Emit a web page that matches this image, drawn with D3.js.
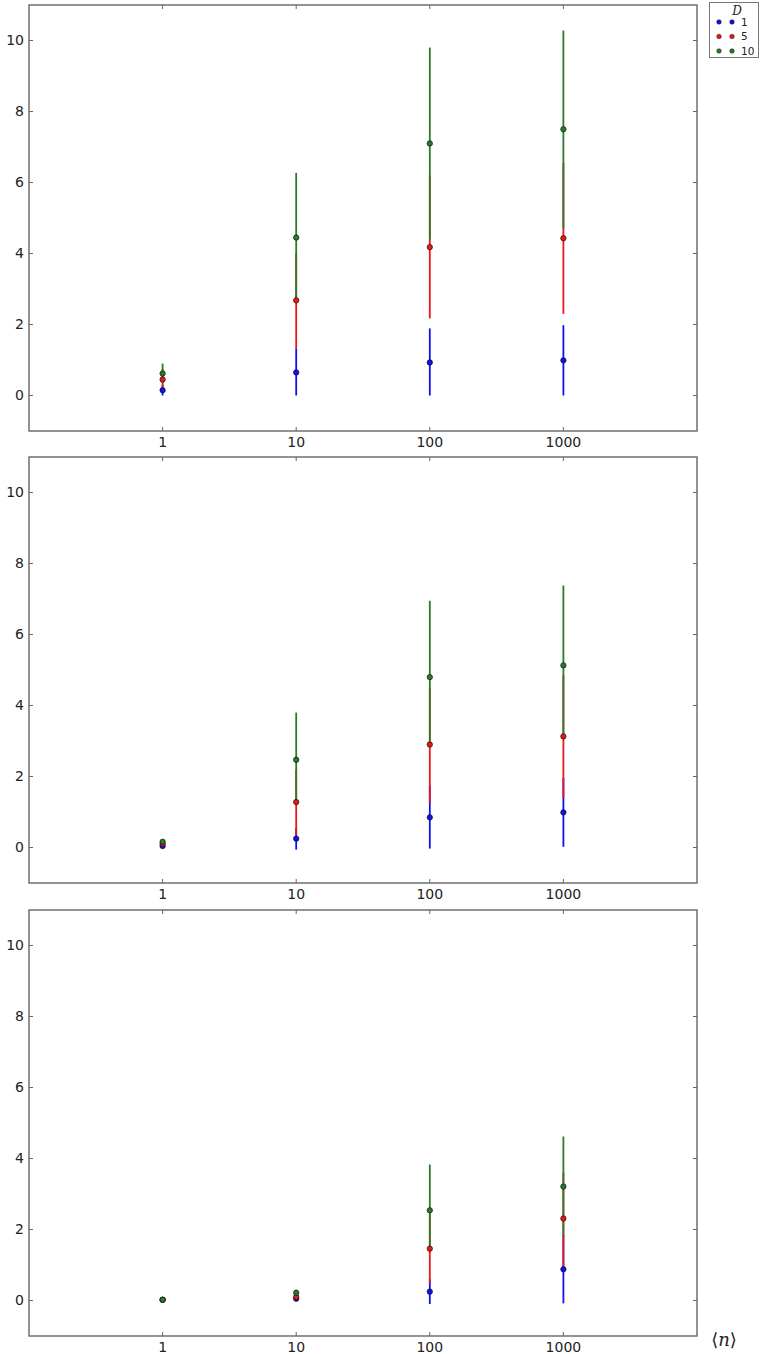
<!DOCTYPE html>
<html>
<head>
<meta charset="utf-8">
<script src="https://cdn.jsdelivr.net/npm/d3@7"></script>
<style>
  body { margin: 0; background: #fff; }
  text { font-family: "DejaVu Sans", sans-serif; fill: #222; }
</style>
</head>
<body>
<div id="chart"></div>
<script>
// x positions (log axis) and tick labels
var nValues = [1, 10, 100, 1000];
var xTicks = [1, 10, 100, 1000];
var yTicks = [0, 2, 4, 6, 8, 10];
var dLabels = ["1", "5", "10"];
var dColors = ["#1010f0", "#e81818", "#2a7a2a"];

// panel 1 (top)
var p1Mean = [[0.15, 0.65, 0.93, 0.99], [0.45, 2.68, 4.18, 4.43], [0.62, 4.45, 7.1, 7.5]];
var p1Lo   = [[0.0, 0.0, 0.0, 0.0],     [0.15, 1.33, 2.17, 2.3],  [0.35, 2.7, 4.4, 4.7]];
var p1Hi   = [[0.3, 1.33, 1.89, 1.98],  [0.75, 4.0, 6.2, 6.55],   [0.9, 6.27, 9.8, 10.28]];

// panel 2 (middle)
var p2Mean = [[0.04, 0.25, 0.85, 0.99], [0.1, 1.28, 2.9, 3.13],  [0.16, 2.47, 4.8, 5.13]];
var p2Lo   = [[0.0, -0.06, -0.03, 0.02],[0.05, 0.34, 1.27, 1.4], [0.1, 1.3, 2.9, 3.1]];
var p2Hi   = [[0.08, 0.55, 1.73, 1.96], [0.15, 2.2, 4.5, 4.85],  [0.22, 3.8, 6.95, 7.38]];

// panel 3 (bottom)
var p3Mean = [[0.02, 0.05, 0.25, 0.88], [0.02, 0.1, 1.46, 2.31], [0.02, 0.22, 2.54, 3.21]];
var p3Lo   = [[0.0, 0.0, -0.1, -0.08],  [0.0, 0.05, 0.5, 0.9],   [0.0, 0.15, 1.5, 1.8]];
var p3Hi   = [[0.04, 0.1, 0.6, 1.84],   [0.04, 0.15, 2.42, 3.6], [0.04, 0.3, 3.83, 4.62]];

var panels = [
  {top: 5,   mean: p1Mean, lo: p1Lo, hi: p1Hi},
  {top: 457, mean: p2Mean, lo: p2Lo, hi: p2Hi},
  {top: 910, mean: p3Mean, lo: p3Lo, hi: p3Hi}
];

var LEFT = 29, RIGHT = 697, PANEL_H = 426, TICK = 4;
var AXIS_COLOR = "#666";

var svg = d3.select("#chart").append("svg")
  .attr("width", 760)
  .attr("height", 1354);

var x = d3.scaleLog().domain([0.1, 10000]).range([LEFT, RIGHT]);

function drawPanel(p) {
  var y = d3.scaleLinear().domain([-1, 11]).range([p.top + PANEL_H, p.top]);
  var g = svg.append("g");

  // frame
  g.append("rect")
    .attr("x", LEFT).attr("y", p.top)
    .attr("width", RIGHT - LEFT).attr("height", PANEL_H)
    .style("fill", "none")
    .style("stroke", AXIS_COLOR)
    .style("stroke-width", 1.4);

  // ticks on all four sides, pointing in
  var ticks = g.append("g").style("stroke", AXIS_COLOR).style("stroke-width", 1);
  xTicks.forEach(function (t) {
    ticks.append("line").attr("x1", x(t)).attr("x2", x(t))
      .attr("y1", p.top + PANEL_H).attr("y2", p.top + PANEL_H - TICK);
    ticks.append("line").attr("x1", x(t)).attr("x2", x(t))
      .attr("y1", p.top).attr("y2", p.top + TICK);
  });
  yTicks.forEach(function (t) {
    ticks.append("line").attr("x1", LEFT).attr("x2", LEFT + TICK)
      .attr("y1", y(t)).attr("y2", y(t));
    ticks.append("line").attr("x1", RIGHT).attr("x2", RIGHT - TICK)
      .attr("y1", y(t)).attr("y2", y(t));
  });

  g.selectAll(".xlab").data(xTicks).enter().append("text")
    .attr("x", d => x(d))
    .attr("y", p.top + PANEL_H + 16)
    .style("font-size", "14px")
    .style("text-anchor", "middle")
    .text(d => d);

  g.selectAll(".ylab").data(yTicks).enter().append("text")
    .attr("x", LEFT - 5)
    .attr("y", d => y(d))
    .attr("dy", "0.35em")
    .style("font-size", "14px")
    .style("text-anchor", "end")
    .text(d => d);

  // error bars, blue then red then green
  var bars = g.append("g");
  dColors.forEach(function (c, s) {
    bars.selectAll(null).data(nValues).enter().append("line")
      .attr("x1", d => x(d)).attr("x2", d => x(d))
      .attr("y1", (d, i) => y(p.lo[s][i]))
      .attr("y2", (d, i) => y(p.hi[s][i]))
      .style("stroke", c)
      .style("stroke-width", 1.8);
  });

  var dots = g.append("g");
  dColors.forEach(function (c, s) {
    dots.selectAll(null).data(nValues).enter().append("circle")
      .attr("cx", d => x(d))
      .attr("cy", (d, i) => y(p.mean[s][i]))
      .attr("r", 2.7)
      .style("fill", c)
      .style("stroke", "#000")
      .style("stroke-width", 0.8)
      .style("stroke-opacity", 0.75);
  });
}

panels.forEach(drawPanel);

// legend
var leg = svg.append("g");
leg.append("rect")
  .attr("x", 709.5).attr("y", 2.5)
  .attr("width", 49).attr("height", 55)
  .style("fill", "#fff")
  .style("stroke", "#777")
  .style("stroke-width", 1);
leg.append("text")
  .attr("x", 737).attr("y", 15)
  .style("font-family", "'DejaVu Serif', serif")
  .style("font-style", "italic")
  .style("font-size", "12px")
  .style("text-anchor", "middle")
  .text("D");
dLabels.forEach(function (lab, i) {
  var ly = 22 + i * 14.5;
  [719, 732].forEach(function (lx) {
    leg.append("circle")
      .attr("cx", lx).attr("cy", ly).attr("r", 2.3)
      .style("fill", dColors[i])
      .style("stroke", "#000").style("stroke-width", 0.6).style("stroke-opacity", 0.7);
  });
  leg.append("text")
    .attr("x", 741).attr("y", ly)
    .attr("dy", "0.35em")
    .style("font-size", "10.5px")
    .text(lab);
});

// x-axis label
var xl = svg.append("text")
  .attr("x", 724).attr("y", 1346)
  .style("font-family", "'DejaVu Serif', serif")
  .style("font-size", "18px")
  .style("text-anchor", "middle");
xl.append("tspan").text("\u27E8");
xl.append("tspan").style("font-style", "italic").text("n");
xl.append("tspan").text("\u27E9");
</script>
</body>
</html>
